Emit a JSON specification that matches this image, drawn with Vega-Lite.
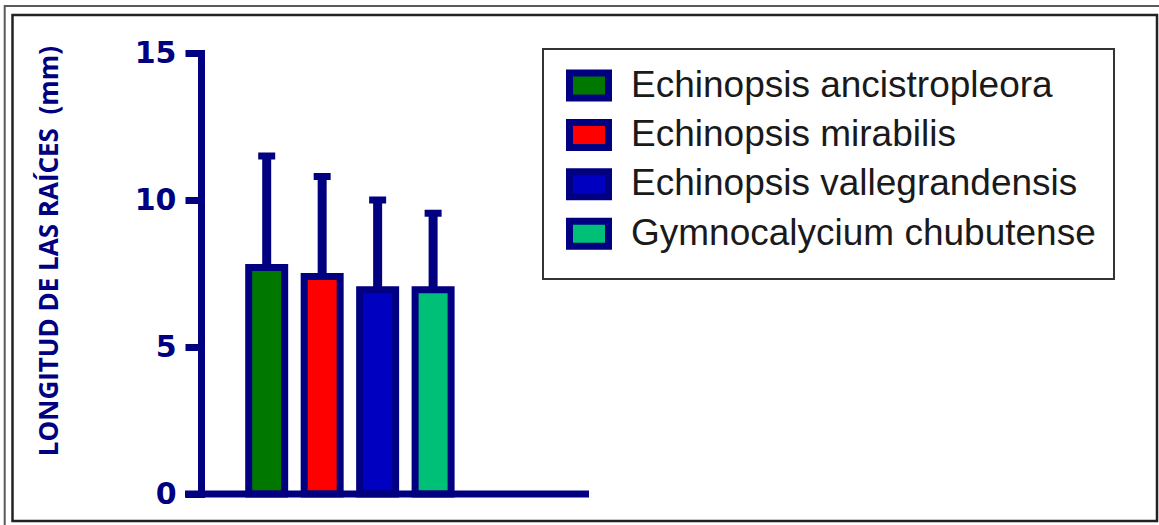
{
  "$schema": "https://vega.github.io/schema/vega-lite/v6.json",
  "width": 388,
  "height": 441,
  "autosize": {"type": "none"},
  "padding": {"left": 201, "top": 53, "right": 570, "bottom": 31},
  "background": "white",
  "config": {
    "view": {"stroke": null},
    "axisY": {
      "grid": false,
      "domainColor": "#000080", "domainWidth": 7, "domainCap": "square",
      "tickColor": "#000080", "tickWidth": 7, "tickSize": 16,
      "labelFont": "DejaVu Sans", "labelFontWeight": "bold", "labelFontSize": 30, "labelColor": "#000080", "labelPadding": 9,
      "titleFont": "Open Sans", "titleFontWeight": "bold", "titleFontSize": 26, "titleColor": "#000080",
      "titleAngle": -90, "titleAlign": "center", "titleBaseline": "alphabetic",
      "titleX": -143.5, "titleY": 197.5
    }
  },
  "resolve": {"scale": {"x": "independent"}},
  "data": {
    "values": [
      {"species": "Echinopsis ancistropleora", "mean": 7.7, "upper": 11.5},
      {"species": "Echinopsis mirabilis", "mean": 7.4, "upper": 10.8},
      {"species": "Echinopsis vallegrandensis", "mean": 6.95, "upper": 10.0},
      {"species": "Gymnocalycium chubutense", "mean": 6.95, "upper": 9.55}
    ]
  },
  "layer": [
    {
      "data": {"values": [{"frame": "outer"}]},
      "mark": {"type": "rect", "filled": false, "color": "#5a5a5a", "strokeWidth": 2},
      "encoding": {
        "x": {"datum": 0, "type": "quantitative", "scale": {"domain": [0, 1], "range": [-196.3, 999], "nice": false, "zero": false}, "axis": null},
        "x2": {"datum": 1},
        "y": {"datum": 16.6, "type": "quantitative", "title": "LONGITUD DE LAS RAÍCES\u00a0 (mm)", "axis": {"values": [0, 5, 10, 15]}},
        "y2": {"datum": -1.56}
      }
    },
    {
      "data": {"values": [{"frame": "inner"}]},
      "mark": {"type": "rect", "filled": false, "color": "#222222", "strokeWidth": 2.5},
      "encoding": {
        "x": {"datum": 0, "type": "quantitative", "scale": {"domain": [0, 1], "range": [-188.5, 956], "nice": false, "zero": false}, "axis": null},
        "x2": {"datum": 1},
        "y": {"datum": 16.29, "type": "quantitative", "title": "LONGITUD DE LAS RAÍCES\u00a0 (mm)", "axis": {"values": [0, 5, 10, 15]}},
        "y2": {"datum": -0.918}
      }
    },
    {
      "mark": {"type": "bar", "stroke": "#000080", "strokeWidth": 7, "strokeJoin": "miter"},
      "encoding": {
        "x": {"field": "species", "type": "nominal", "sort": null, "scale": {"range": [47.7, 250.1], "paddingInner": 0.3512, "paddingOuter": 0}, "axis": null},
        "y": {
          "field": "mean", "type": "quantitative",
          "title": "LONGITUD DE LAS RAÍCES\u00a0 (mm)",
          "axis": {"values": [0, 5, 10, 15]},
          "scale": {"domain": [0, 15], "nice": false, "zero": true}
        },
        "fill": {
          "field": "species", "type": "nominal", "sort": null,
          "scale": {
            "domain": ["Echinopsis ancistropleora", "Echinopsis mirabilis", "Echinopsis vallegrandensis", "Gymnocalycium chubutense"],
            "range": ["#007800", "#ff0000", "#0000c0", "#00c078"]
          },
          "legend": {
            "title": null,
            "orient": "none", "legendX": 342, "legendY": -4,
            "direction": "vertical",
            "padding": 18,
            "strokeColor": "#333333",
            "symbolType": "M-1.56,-1H1.56V1H-1.56Z",
            "symbolSize": 625,
            "symbolStrokeColor": "#000080", "symbolStrokeWidth": 7, "symbolOpacity": 1,
            "symbolOffset": 9.5,
            "labelFont": "Liberation Sans", "labelFontSize": 37, "labelColor": "#1a1a1a", "labelOffset": 23.5, "labelLimit": 800,
            "rowPadding": -3.6,
            "encode": {"legend": {"update": {"strokeWidth": {"value": 2}}}}
          }
        }
      }
    },
    {
      "mark": {"type": "rule", "stroke": "#000080", "strokeWidth": 9},
      "encoding": {
        "x": {"field": "species", "type": "nominal", "sort": null, "scale": {"range": [47.7, 250.1], "paddingInner": 0.3512, "paddingOuter": 0}, "axis": null},
        "y": {"field": "mean", "type": "quantitative", "title": "LONGITUD DE LAS RAÍCES\u00a0 (mm)", "axis": {"values": [0, 5, 10, 15]}},
        "y2": {"field": "upper"}
      }
    },
    {
      "mark": {"type": "tick", "color": "#000080", "size": 17, "thickness": 7, "opacity": 1, "orient": "horizontal"},
      "encoding": {
        "x": {"field": "species", "type": "nominal", "sort": null, "scale": {"range": [47.7, 250.1], "paddingInner": 0.3512, "paddingOuter": 0}, "axis": null},
        "y": {"field": "upper", "type": "quantitative", "title": "LONGITUD DE LAS RAÍCES\u00a0 (mm)", "axis": {"values": [0, 5, 10, 15]}}
      }
    },
    {
      "data": {"values": [{"baseline": 0}]},
      "mark": {"type": "rule", "stroke": "#000080", "strokeWidth": 7},
      "encoding": {
        "x": {"datum": 0, "type": "quantitative", "scale": {"domain": [0, 1], "range": [-16, 388], "nice": false, "zero": false}, "axis": null},
        "x2": {"datum": 1},
        "y": {"datum": 0, "type": "quantitative", "title": "LONGITUD DE LAS RAÍCES\u00a0 (mm)", "axis": {"values": [0, 5, 10, 15]}}
      }
    }
  ]
}
